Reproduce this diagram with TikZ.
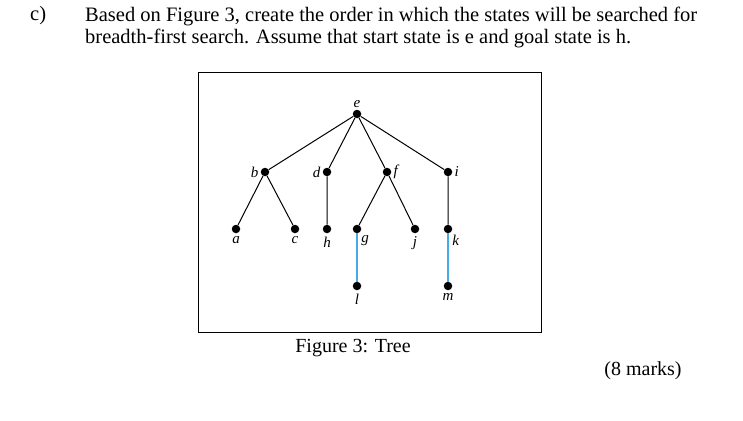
\documentclass[tikz,border=0pt]{standalone}
\usepackage{fontspec}
\setmainfont{Liberation Serif}
\usetikzlibrary{positioning}
\begin{document}
\begin{tikzpicture}[x=1pt,y=-1pt,
  dot/.style={circle,fill=black,inner sep=0pt,minimum size=8.5pt},
  lbl/.style={font=\fontsize{15}{16}\selectfont\itshape,inner sep=1pt},
  txt/.style={font=\fontsize{20.5}{22}\selectfont,anchor=west,inner sep=0pt},
  edge/.style={line width=1pt},
  bluelink/.style={line width=1.2pt,draw={rgb,255:red,70;green,170;blue,230}}]
\useasboundingbox (0,0) rectangle (743,420);
\node[txt] (q) at (30,16) {c)};
\node[txt] (l1) at (85,16) {Based on Figure 3, create the order in which the states will be searched for};
\node[txt] (l2) at (85,38) {breadth-first search. Assume that start state is e and goal state is h.};
\node[draw,line width=0.8pt,minimum width=343pt,minimum height=260pt,inner sep=0pt] (frame) at (369.5,202) {};
\node[dot] (e) at (357,114) {}; \node[lbl,above=1pt of e] (le) {e};
\node[dot] (b) at (265,172) {}; \node[lbl,left=1pt of b] (lb) {b};
\node[dot] (d) at (327,172) {}; \node[lbl,left=1pt of d] (ld) {d};
\node[dot] (f) at (387,172) {}; \node[lbl,right=1pt of f] (lf) {f};
\node[dot] (i) at (448,172) {}; \node[lbl,right=1pt of i] (li) {i};
\node[dot] (a) at (236,229) {}; \node[lbl,below=2pt of a] (la) {a};
\node[dot] (c) at (295,229) {}; \node[lbl,below=2pt of c] (lc) {c};
\node[dot] (h) at (327,229) {}; \node[lbl,below=2pt of h] (lh) {h};
\node[dot] (g) at (357,229) {}; \node[lbl,below right=2pt and 0pt of g] (lg) {g};
\node[dot] (j) at (415,229) {}; \node[lbl,below=2pt of j] (lj) {j};
\node[dot] (k) at (448,229) {}; \node[lbl,below right=2pt and 0pt of k] (lk) {k};
\node[dot] (l) at (357,286) {}; \node[lbl,below=2pt of l] (ll) {l};
\node[dot] (m) at (448,286) {}; \node[lbl,below=2pt of m] (lm) {m};
\draw[edge] (e)--(b) (e)--(d) (e)--(f) (e)--(i) (b)--(a) (b)--(c) (d)--(h) (f)--(g) (f)--(j) (i)--(k);
\draw[bluelink] (g)--(l) (k)--(m);
\node[font=\fontsize{20}{22}\selectfont] (cap) at (353,348) {Figure 3: Tree};
\node[font=\fontsize{20}{22}\selectfont] (marks) at (643,371) {(8 marks)};
\end{tikzpicture}
\end{document}
